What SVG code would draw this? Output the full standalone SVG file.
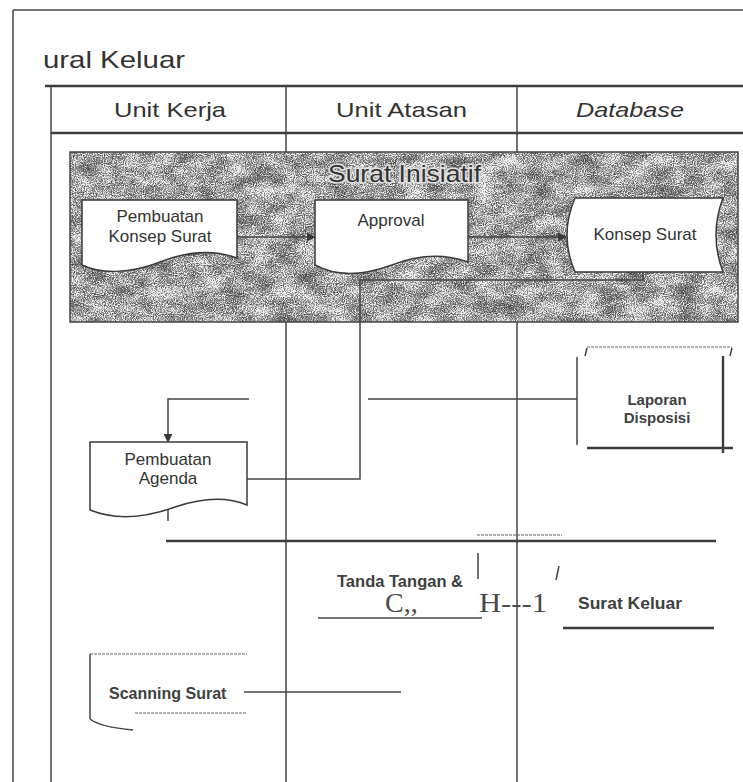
<svg xmlns="http://www.w3.org/2000/svg" width="743" height="782" viewBox="0 0 743 782">
<style>
.ln{stroke:#444;stroke-width:1.5;fill:none}
.thk{stroke:#3c3c3c;stroke-width:2.4;fill:none}
.thin{stroke:#666;stroke-width:1;fill:none;stroke-dasharray:3 1}
.shape{fill:#fff;stroke:#3a3a3a;stroke-width:1.5}
.t{font-family:"Liberation Sans",Arial,sans-serif;fill:#333}
.b{font-weight:bold;fill:#404040}
.s{font-family:"Liberation Serif","Times New Roman",serif;fill:#4a4a4a}
</style>
<defs>
<marker id="arr" viewBox="0 0 10 10" refX="9" refY="5" markerWidth="9" markerHeight="9" markerUnits="userSpaceOnUse" orient="auto">
<path d="M0,0 L10,5 L0,10 Z" fill="#3a3a3a"/>
</marker>
<filter id="tex" x="0" y="0" width="1" height="1" color-interpolation-filters="sRGB">
<feTurbulence type="fractalNoise" baseFrequency="0.9" numOctaves="2" seed="2" result="f"/>
<feTurbulence type="fractalNoise" baseFrequency="0.04 0.07" numOctaves="3" seed="9" result="c"/>
<feColorMatrix in="f" type="matrix" values="1 0 0 0 0 1 0 0 0 0 1 0 0 0 0 0 0 0 0 1" result="f2"/>
<feColorMatrix in="c" type="matrix" values="1 0 0 0 0 1 0 0 0 0 1 0 0 0 0 0 0 0 0 1" result="c2"/>
<feComposite in="f2" in2="c2" operator="arithmetic" k1="0" k2="1.9" k3="0.9" k4="-0.9" result="m"/>
<feComponentTransfer in="m">
<feFuncR type="table" tableValues="0.3 0.42 0.55 0.72 0.92 0.97"/>
<feFuncG type="table" tableValues="0.3 0.42 0.55 0.72 0.92 0.97"/>
<feFuncB type="table" tableValues="0.3 0.42 0.55 0.72 0.92 0.97"/>
</feComponentTransfer>
</filter>
</defs>
<rect width="743" height="782" fill="#fff"/>
<g id="frame">
<line class="ln" x1="13" y1="10" x2="743" y2="10"/>
<line class="ln" x1="13" y1="10" x2="13" y2="782"/>
<text class="t" x="43" y="68" font-size="24" textLength="142" lengthAdjust="spacingAndGlyphs">ural Keluar</text>
<line class="thk" x1="45" y1="86" x2="743" y2="86"/>
<line class="ln" x1="51" y1="86" x2="51" y2="782"/>
<line class="ln" x1="286" y1="86" x2="286" y2="782"/>
<line class="ln" x1="517" y1="86" x2="517" y2="782"/>
<line class="thk" x1="51" y1="133" x2="743" y2="133" stroke-width="1.8"/>
<text class="t" x="114" y="117" font-size="21" textLength="112" lengthAdjust="spacingAndGlyphs">Unit Kerja</text>
<text class="t" x="336" y="117" font-size="21" textLength="131" lengthAdjust="spacingAndGlyphs">Unit Atasan</text>
<text class="t" x="576" y="117" font-size="21" font-style="italic" textLength="108" lengthAdjust="spacingAndGlyphs">Database</text>
</g>
<g id="surat-inisiatif">
<rect x="70" y="152" width="668" height="170" filter="url(#tex)"/>
<rect x="70" y="152" width="668" height="170" fill="none" stroke="#444" stroke-width="1.5"/>
<text class="t" x="328" y="182" font-size="24" textLength="153" lengthAdjust="spacingAndGlyphs" fill="#4a4a4a" stroke="#e0e0e0" stroke-width="3" paint-order="stroke">Surat Inisiatif</text>
</g>
<g id="connectors">
<line class="ln" x1="237" y1="237" x2="315" y2="237" marker-end="url(#arr)"/>
<line class="ln" x1="468" y1="237" x2="566" y2="237" marker-end="url(#arr)"/>
<polyline class="ln" points="643,272 643,280 360,280 360,479 247,479"/>
<polyline class="ln" points="249,399 168,399 168,442" marker-end="url(#arr)"/>
<line class="ln" x1="168" y1="507" x2="168" y2="521"/>
<line class="ln" x1="368" y1="399" x2="577" y2="399"/>
<line class="thk" x1="166" y1="541" x2="716" y2="541"/>
<line class="thin" x1="477" y1="535" x2="562" y2="535"/>
<line class="ln" x1="244" y1="692" x2="401" y2="692"/>
</g>
<g id="pembuatan-konsep-surat">
<path class="shape" d="M82,200 H237 V258 C215,250 190,250 160,262 C130,274 100,274 82,265 Z"/>
<text class="t" x="160" y="222" font-size="17" text-anchor="middle">Pembuatan</text>
<text class="t" x="160" y="242" font-size="17" text-anchor="middle">Konsep Surat</text>
</g>
<g id="approval">
<path class="shape" d="M315,200 H468 V262 C445,254 420,254 392,265 C362,276 335,276 315,265 Z"/>
<text class="t" x="391" y="226" font-size="17" text-anchor="middle">Approval</text>
</g>
<g id="konsep-surat">
<path class="shape" d="M575,198 L723,198 Q709,235 723,272 L575,272 Q559,235 575,198 Z"/>
<text class="t" x="645" y="240" font-size="17" text-anchor="middle">Konsep Surat</text>
</g>
<g id="laporan-disposisi">
<line class="thin" x1="587" y1="347" x2="732" y2="347"/>
<line class="ln" x1="587" y1="348" x2="585" y2="356" stroke-width="1"/>
<line class="ln" x1="732" y1="348" x2="730" y2="356" stroke-width="1"/>
<line class="ln" x1="577" y1="357" x2="577" y2="445"/>
<line class="thk" x1="723" y1="356" x2="723" y2="453" stroke-width="1.8"/>
<line class="thk" x1="587" y1="448" x2="733" y2="448" stroke-width="1.8"/>
<text class="t b" x="657" y="405" font-size="15" text-anchor="middle">Laporan</text>
<text class="t b" x="657" y="423" font-size="15" text-anchor="middle">Disposisi</text>
</g>
<g id="pembuatan-agenda">
<path class="shape" d="M90,442 H247 V505 C228,497 205,497 175,507 C145,518 115,520 90,510 Z"/>
<text class="t" x="168" y="465" font-size="17" text-anchor="middle">Pembuatan</text>
<text class="t" x="168" y="484" font-size="17" text-anchor="middle">Agenda</text>
</g>
<g id="tanda-tangan">
<text class="t b" x="337" y="587" font-size="16" textLength="126" lengthAdjust="spacingAndGlyphs">Tanda Tangan &amp;</text>
<text class="s" x="385" y="612" font-size="28">C,,</text>
<line class="ln" x1="318" y1="618" x2="482" y2="618"/>
<line class="ln" x1="478" y1="553" x2="478" y2="579"/>
<text class="s" x="479" y="612" font-size="28" textLength="68" lengthAdjust="spacingAndGlyphs">H---1</text>
<line class="ln" x1="556" y1="580" x2="559" y2="566" stroke-width="1.1"/>
</g>
<g id="surat-keluar">
<text class="t b" x="578" y="609" font-size="16" textLength="104" lengthAdjust="spacingAndGlyphs">Surat Keluar</text>
<line class="thk" x1="563" y1="628" x2="714" y2="628" stroke-width="1.8"/>
</g>
<g id="scanning-surat">
<line class="thin" x1="90" y1="654" x2="247" y2="654"/>
<line class="ln" x1="90" y1="654" x2="90" y2="719"/>
<path class="ln" d="M90,719 Q100,727 133,730"/>
<line class="thin" x1="135" y1="713" x2="247" y2="713"/>
<text class="t b" x="109" y="699" font-size="16">Scanning  Surat</text>
</g>
</svg>
